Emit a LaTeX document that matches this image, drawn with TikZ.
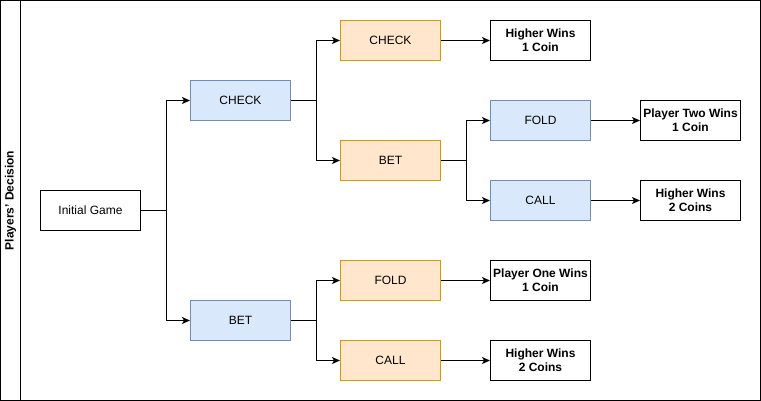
\documentclass[tikz,border=0pt]{standalone}
\usepackage{fontspec}
\setmainfont{Liberation Sans}
\usetikzlibrary{arrows.meta}
\definecolor{bluefill}{HTML}{DAE8FC}
\definecolor{bluedraw}{HTML}{6C8EBF}
\definecolor{orfill}{HTML}{FFE6CC}
\definecolor{ordraw}{HTML}{D79B00}
\begin{document}
\begin{tikzpicture}[x=1pt,y=-1pt,
  base/.style={draw, line width=1pt, minimum width=100pt, minimum height=40pt, inner sep=0pt, font=\fontsize{12}{14}\selectfont, align=center, anchor=center},
  plainbox/.style={base, fill=white, draw=black},
  leafbox/.style={base, fill=white, draw=black, font=\fontsize{12}{14}\selectfont\bfseries},
  bluebox/.style={base, fill=bluefill, draw=bluedraw},
  orbox/.style={base, fill=orfill, draw=ordraw},
  conn/.style={line width=1pt, -{Stealth[length=8pt,width=7pt,inset=2pt]}}
]
\useasboundingbox (0,0) rectangle (761,401);
\draw[line width=1pt] (0.5,0.5) rectangle (760.5,400.5);
\draw[line width=1pt] (20.5,0.5) -- (20.5,400.5);
\node[rotate=90, font=\fontsize{12}{14}\selectfont\bfseries] (title) at (10.5,200.5) {Players' Decision};

\node[plainbox] (ig) at (90.5,210.5) {Initial Game};
\node[bluebox] (check) at (240.5,100.5) {CHECK};
\node[bluebox] (bet) at (240.5,320.5) {BET};
\node[orbox] (check2) at (390.5,40.5) {CHECK};
\node[orbox] (bet2) at (390.5,160.5) {BET};
\node[orbox] (fold2) at (390.5,280.5) {FOLD};
\node[orbox] (call2) at (390.5,360.5) {CALL};
\node[leafbox] (hw1) at (540.5,40.5) {Higher Wins\\1 Coin};
\node[bluebox] (fold3) at (540.5,120.5) {FOLD};
\node[bluebox] (call3) at (540.5,200.5) {CALL};
\node[leafbox] (p2w) at (690.5,120.5) {Player Two Wins\\1 Coin};
\node[leafbox] (hw2a) at (690.5,200.5) {Higher Wins\\2 Coins};
\node[leafbox] (p1w) at (540.5,280.5) {Player One Wins\\1 Coin};
\node[leafbox] (hw2b) at (540.5,360.5) {Higher Wins\\2 Coins};

\draw[conn] (ig.east) -- ++(25,0) |- (check.west);
\draw[conn] (ig.east) -- ++(25,0) |- (bet.west);
\draw[conn] (check.east) -- ++(25,0) |- (check2.west);
\draw[conn] (check.east) -- ++(25,0) |- (bet2.west);
\draw[conn] (bet.east) -- ++(25,0) |- (fold2.west);
\draw[conn] (bet.east) -- ++(25,0) |- (call2.west);
\draw[conn] (bet2.east) -- ++(25,0) |- (fold3.west);
\draw[conn] (bet2.east) -- ++(25,0) |- (call3.west);
\draw[conn] (check2.east) -- (hw1.west);
\draw[conn] (fold3.east) -- (p2w.west);
\draw[conn] (call3.east) -- (hw2a.west);
\draw[conn] (fold2.east) -- (p1w.west);
\draw[conn] (call2.east) -- (hw2b.west);
\end{tikzpicture}
\end{document}
